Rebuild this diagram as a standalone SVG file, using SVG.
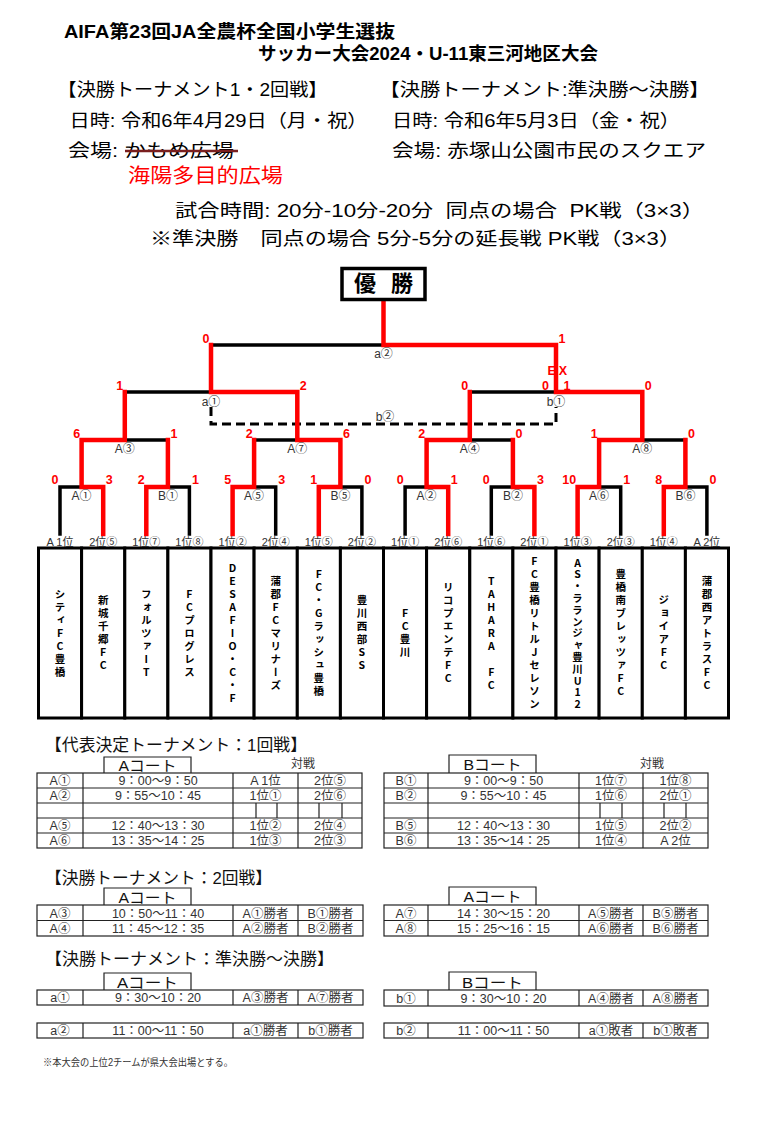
<svg xmlns="http://www.w3.org/2000/svg" width="772" height="1132" viewBox="0 0 772 1132">
<style>
.hb{font-family:"Liberation Sans","Noto Sans CJK JP",sans-serif;font-weight:700;font-size:18px;fill:#000}
.h{font-family:"Liberation Sans","Noto Sans CJK JP",sans-serif;font-size:18px;fill:#000}
.lbl{font-family:"Liberation Sans","Noto Sans CJK JP",sans-serif;font-size:12px;fill:#333;text-anchor:middle}
.slot{font-family:"Liberation Sans","Noto Sans CJK JP",sans-serif;font-size:11px;fill:#333;text-anchor:middle}
.sc{font-family:"Liberation Sans",Arial,sans-serif;font-weight:700;font-size:12.5px;fill:#ff0000}
.e{text-anchor:end}
.team{font-family:"Noto Sans CJK JP",sans-serif;font-weight:700;font-size:10.5px;fill:#000;writing-mode:vertical-rl;text-orientation:upright;letter-spacing:2.5px;text-anchor:middle}
.cell{fill:#fff;stroke:#000;stroke-width:3}
.blk{fill:none;stroke:#000;stroke-width:3.5;stroke-linecap:square;stroke-linejoin:miter}
.rd{fill:none;stroke:#ff0000;stroke-width:4.5;stroke-linecap:square;stroke-linejoin:miter}
.dash{fill:none;stroke:#000;stroke-width:3;stroke-dasharray:9 5}
.tl{fill:none;stroke:#222;stroke-width:1.2}
.tc{font-family:"Liberation Sans","Noto Sans CJK JP",sans-serif;font-size:12.5px;fill:#333;text-anchor:middle}
.th{font-family:"Liberation Sans","Noto Sans CJK JP",sans-serif;font-size:16.5px;fill:#111}
.ct{font-family:"Liberation Sans","Noto Sans CJK JP",sans-serif;font-size:14.5px;fill:#111;text-anchor:middle}
</style>
<rect width="772" height="1132" fill="#fff"/>

<g id="header">
<text class="hb" x="64" y="38" textLength="331" lengthAdjust="spacingAndGlyphs">AIFA第23回JA全農杯全国小学生選抜</text>
<text class="hb" x="258" y="60" textLength="340" lengthAdjust="spacingAndGlyphs">サッカー大会2024・U-11東三河地区大会</text>
<text class="h" x="57.5" y="95.5" textLength="270" lengthAdjust="spacingAndGlyphs">【決勝トーナメント1・2回戦】</text>
<text class="h" x="379.5" y="95.5" textLength="330" lengthAdjust="spacingAndGlyphs">【決勝トーナメント:準決勝～決勝】</text>
<text class="h" x="69.5" y="126.5" textLength="298" lengthAdjust="spacingAndGlyphs">日時: 令和6年4月29日（月・祝）</text>
<text class="h" x="392" y="126.5" textLength="288" lengthAdjust="spacingAndGlyphs">日時: 令和6年5月3日（金・祝）</text>
<text class="h" x="68" y="157" textLength="166" lengthAdjust="spacingAndGlyphs">会場: かもめ広場</text>
<line x1="125" y1="151" x2="238" y2="151" stroke="#7a1f1f" stroke-width="2.5"/>
<text class="h" x="392" y="157" textLength="314" lengthAdjust="spacingAndGlyphs">会場: 赤塚山公園市民のスクエア</text>
<text class="h" x="128" y="183" style="font-size:20px;fill:#ff0000" textLength="155" lengthAdjust="spacingAndGlyphs">海陽多目的広場</text>
<text class="h" x="175" y="216.5" textLength="529" lengthAdjust="spacingAndGlyphs">試合時間: 20分-10分-20分&#160;&#160;同点の場合&#160;&#160;PK戦（3×3）</text>
<text class="h" x="150" y="245" textLength="531" lengthAdjust="spacingAndGlyphs">※準決勝　同点の場合 5分-5分の延長戦 PK戦（3×3）</text>
</g>

<g id="connectors">
<path class="blk" d="M60,534 V487 H81.6"/>
<path class="blk" d="M167.9,487 H189.4 V534"/>
<path class="blk" d="M254.1,487 H275.7 V534"/>
<path class="blk" d="M340.4,487 H361.9 V534"/>
<path class="blk" d="M405.1,534 V487 H426.6"/>
<path class="blk" d="M491.3,534 V487 H512.9"/>
<path class="blk" d="M599.1,487 H620.7 V534"/>
<path class="blk" d="M685.4,487 H706.9 V534"/>
<path class="blk" d="M124.8,440 H167.9"/>
<path class="blk" d="M254.1,440 H297.3"/>
<path class="blk" d="M469.8,440 H512.9"/>
<path class="blk" d="M642.3,440 H685.4"/>
<path class="blk" d="M124.8,392 H211"/>
<path class="blk" d="M469.8,392 H556"/>
<path class="blk" d="M211,345 H383.5"/>
<path class="dash" d="M211,407 V424 H556 V407"/>
<path class="rd" d="M103.2,534 V487 H81.6 V440 H124.8 V392"/>
<path class="rd" d="M146.3,534 V487 H167.9 V440"/>
<path class="rd" d="M232.6,534 V487 H254.1 V440"/>
<path class="rd" d="M318.8,534 V487 H340.4 V440 H297.3 V392 H211 V345"/>
<path class="rd" d="M448.2,534 V487 H426.6 V440 H469.8 V392"/>
<path class="rd" d="M534.4,534 V487 H512.9 V440"/>
<path class="rd" d="M577.6,534 V487 H599.1 V440 H642.3 V392 H556 V345 H383.5 V301"/>
<path class="rd" d="M663.8,534 V487 H685.4 V440"/>
</g>

<g id="champion">
<rect x="342" y="268.5" width="83" height="31" fill="#fff" stroke="#000" stroke-width="3.5"/>
<text x="354" y="291" style="font-family:'Noto Sans CJK JP',sans-serif;font-weight:700;font-size:22px;fill:#000">優<tspan x="391">勝</tspan></text>
</g>

<g id="match-labels">
<text class="lbl" x="383.5" y="358">a②</text>
<text class="lbl" x="211" y="406">a①</text>
<text class="lbl" x="556" y="406">b①</text>
<text class="lbl" x="385" y="421">b②</text>
<text class="lbl" x="124.8" y="453">A③</text>
<text class="lbl" x="297.3" y="453">A⑦</text>
<text class="lbl" x="469.8" y="453">A④</text>
<text class="lbl" x="642.3" y="453">A⑧</text>
<text class="lbl" x="81.6" y="500">A①</text>
<text class="lbl" x="167.9" y="500">B①</text>
<text class="lbl" x="254.1" y="500">A⑤</text>
<text class="lbl" x="340.4" y="500">B⑤</text>
<text class="lbl" x="426.6" y="500">A②</text>
<text class="lbl" x="512.9" y="500">B②</text>
<text class="lbl" x="599.1" y="500">A⑥</text>
<text class="lbl" x="685.4" y="500">B⑥</text>
</g>

<g id="scores">
<text class="sc e" x="58.5" y="484">0</text><text class="sc" x="105.7" y="484">3</text>
<text class="sc e" x="144.8" y="484">2</text><text class="sc" x="191.9" y="484">1</text>
<text class="sc e" x="231.1" y="484">5</text><text class="sc" x="278.2" y="484">3</text>
<text class="sc e" x="317.3" y="484">1</text><text class="sc" x="364.4" y="484">0</text>
<text class="sc e" x="403.6" y="484">0</text><text class="sc" x="450.7" y="484">1</text>
<text class="sc e" x="489.8" y="484">0</text><text class="sc" x="536.9" y="484">3</text>
<text class="sc e" x="576.1" y="484">10</text><text class="sc" x="623.2" y="484">1</text>
<text class="sc e" x="662.3" y="484">8</text><text class="sc" x="709.4" y="484">0</text>
<text class="sc e" x="80.1" y="437.5">6</text><text class="sc" x="170.4" y="437.5">1</text>
<text class="sc e" x="252.6" y="437.5">2</text><text class="sc" x="342.9" y="437.5">6</text>
<text class="sc e" x="425.1" y="437.5">2</text><text class="sc" x="515.4" y="437.5">0</text>
<text class="sc e" x="597.6" y="437.5">1</text><text class="sc" x="687.9" y="437.5">0</text>
<text class="sc e" x="123.3" y="389.5">1</text><text class="sc" x="299.8" y="389.5">2</text>
<text class="sc e" x="468.3" y="389.5">0</text><text class="sc" x="644.8" y="389.5">0</text>
<text class="sc e" x="549" y="390">0</text><text class="sc" x="563.5" y="390">1</text>
<text class="sc" x="547.5" y="375" style="letter-spacing:3px">EX</text>
<text class="sc e" x="209.5" y="342.5">0</text><text class="sc" x="558.5" y="342.5">1</text>
</g>

<g id="slot-labels">
<text class="slot" x="60" y="546">A 1位</text>
<text class="slot" x="103.2" y="546">2位⑤</text>
<text class="slot" x="146.3" y="546">1位⑦</text>
<text class="slot" x="189.4" y="546">1位⑧</text>
<text class="slot" x="232.6" y="546">1位②</text>
<text class="slot" x="275.7" y="546">2位④</text>
<text class="slot" x="318.8" y="546">1位⑤</text>
<text class="slot" x="361.9" y="546">2位②</text>
<text class="slot" x="405.1" y="546">1位①</text>
<text class="slot" x="448.2" y="546">2位⑥</text>
<text class="slot" x="491.3" y="546">1位⑥</text>
<text class="slot" x="534.4" y="546">2位①</text>
<text class="slot" x="577.6" y="546">1位③</text>
<text class="slot" x="620.7" y="546">2位③</text>
<text class="slot" x="663.8" y="546">1位④</text>
<text class="slot" x="706.9" y="546">A 2位</text>
</g>

<g id="teams">
<g id="team-01"><rect class="cell" x="38.5" y="548" width="43.1" height="170"/><text class="team" x="60" y="634">シティFC豊橋</text></g>
<g id="team-02"><rect class="cell" x="81.6" y="548" width="43.2" height="170"/><text class="team" x="103.2" y="634">新城千郷FC</text></g>
<g id="team-03"><rect class="cell" x="124.8" y="548" width="43.1" height="170"/><text class="team" x="146.3" y="634">フォルツァIT</text></g>
<g id="team-04"><rect class="cell" x="167.9" y="548" width="43.1" height="170"/><text class="team" x="189.4" y="634">FCプログレス</text></g>
<g id="team-05"><rect class="cell" x="211" y="548" width="43.1" height="170"/><text class="team" x="232.6" y="634">DESAFIO・C・F</text></g>
<g id="team-06"><rect class="cell" x="254.1" y="548" width="43.2" height="170"/><text class="team" x="275.7" y="634">蒲郡FCマリナーズ</text></g>
<g id="team-07"><rect class="cell" x="297.3" y="548" width="43.1" height="170"/><text class="team" x="318.8" y="634">FC・Gラッシュ豊橋</text></g>
<g id="team-08"><rect class="cell" x="340.4" y="548" width="43.1" height="170"/><text class="team" x="361.9" y="634">豊川西部SS</text></g>
<g id="team-09"><rect class="cell" x="383.5" y="548" width="43.1" height="170"/><text class="team" x="405.1" y="634">FC豊川</text></g>
<g id="team-10"><rect class="cell" x="426.6" y="548" width="43.2" height="170"/><text class="team" x="448.2" y="634">リコプエンテFC</text></g>
<g id="team-11"><rect class="cell" x="469.8" y="548" width="43.1" height="170"/><text class="team" x="491.3" y="634">TAHARA FC</text></g>
<g id="team-12"><rect class="cell" x="512.9" y="548" width="43.1" height="170"/><text class="team" x="534.4" y="634">FC豊橋リトルJセレソン</text></g>
<g id="team-13"><rect class="cell" x="556" y="548" width="43.1" height="170"/><text class="team" x="577.6" y="634" style="letter-spacing:1.3px">AS・ラランジャ豊川U12</text></g>
<g id="team-14"><rect class="cell" x="599.1" y="548" width="43.2" height="170"/><text class="team" x="620.7" y="634">豊橋南ブレッツァFC</text></g>
<g id="team-15"><rect class="cell" x="642.3" y="548" width="43.1" height="170"/><text class="team" x="663.8" y="634">ジョイアFC</text></g>
<g id="team-16"><rect class="cell" x="685.4" y="548" width="43.1" height="170"/><text class="team" x="706.9" y="634">蒲郡西アトラスFC</text></g>
</g>

<g id="table-round1">
<text class="th" x="45" y="751" textLength="262" lengthAdjust="spacingAndGlyphs">【代表決定トーナメント：1回戦】</text>
<path class="tl" d="M104,773 V757 H191 V773"/>
<text class="ct" x="147.5" y="770.5" textLength="58" lengthAdjust="spacingAndGlyphs">Aコート</text>
<text class="tc" x="303" y="768" style="font-size:12px">対戦</text>
<rect class="tl" x="37" y="773" width="325" height="75"/>
<path class="tl" d="M37,788 H362 M37,803 H362 M37,818 H362 M37,833 H362 M83,773 V848 M233,773 V848 M298,773 V848 M256,803 V818 M277,803 V818 M319,803 V818 M342,803 V818"/>
<text class="tc" x="60" y="785">A①</text><text class="tc" x="158" y="785">9：00～9：50</text><text class="tc" x="265.5" y="785">A 1位</text><text class="tc" x="330" y="785">2位⑤</text>
<text class="tc" x="60" y="800">A②</text><text class="tc" x="158" y="800">9：55～10：45</text><text class="tc" x="265.5" y="800">1位①</text><text class="tc" x="330" y="800">2位⑥</text>
<text class="tc" x="60" y="830">A⑤</text><text class="tc" x="158" y="830">12：40～13：30</text><text class="tc" x="265.5" y="830">1位②</text><text class="tc" x="330" y="830">2位④</text>
<text class="tc" x="60" y="845">A⑥</text><text class="tc" x="158" y="845">13：35～14：25</text><text class="tc" x="265.5" y="845">1位③</text><text class="tc" x="330" y="845">2位③</text>

<path class="tl" d="M449,773 V755 H536 V773"/>
<text class="ct" x="492.5" y="770" textLength="58" lengthAdjust="spacingAndGlyphs">Bコート</text>
<text class="tc" x="652" y="768" style="font-size:12px">対戦</text>
<rect class="tl" x="384" y="773" width="324" height="75"/>
<path class="tl" d="M384,788 H708 M384,803 H708 M384,818 H708 M384,833 H708 M428,773 V848 M579,773 V848 M643,773 V848 M600,803 V818 M622,803 V818 M664,803 V818 M686,803 V818"/>
<text class="tc" x="406" y="785">B①</text><text class="tc" x="503.5" y="785">9：00～9：50</text><text class="tc" x="611" y="785">1位⑦</text><text class="tc" x="675.5" y="785">1位⑧</text>
<text class="tc" x="406" y="800">B②</text><text class="tc" x="503.5" y="800">9：55～10：45</text><text class="tc" x="611" y="800">1位⑥</text><text class="tc" x="675.5" y="800">2位①</text>
<text class="tc" x="406" y="830">B⑤</text><text class="tc" x="503.5" y="830">12：40～13：30</text><text class="tc" x="611" y="830">1位⑤</text><text class="tc" x="675.5" y="830">2位②</text>
<text class="tc" x="406" y="845">B⑥</text><text class="tc" x="503.5" y="845">13：35～14：25</text><text class="tc" x="611" y="845">1位④</text><text class="tc" x="675.5" y="845">A 2位</text>
</g>

<g id="table-round2">
<text class="th" x="45" y="884" textLength="227" lengthAdjust="spacingAndGlyphs">【決勝トーナメント：2回戦】</text>
<path class="tl" d="M104,905 V888 H191 V905"/>
<text class="ct" x="147.5" y="902.5" textLength="58" lengthAdjust="spacingAndGlyphs">Aコート</text>
<rect class="tl" x="37" y="905" width="326" height="31"/>
<path class="tl" d="M37,920.5 H363 M83,905 V936 M233,905 V936 M298,905 V936"/>
<text class="tc" x="60" y="917.5">A③</text><text class="tc" x="158" y="917.5">10：50～11：40</text><text class="tc" x="265.5" y="917.5">A①勝者</text><text class="tc" x="330.5" y="917.5">B①勝者</text>
<text class="tc" x="60" y="932.5">A④</text><text class="tc" x="158" y="932.5">11：45～12：35</text><text class="tc" x="265.5" y="932.5">A②勝者</text><text class="tc" x="330.5" y="932.5">B②勝者</text>

<path class="tl" d="M449,905 V887 H536 V905"/>
<text class="ct" x="492.5" y="902" textLength="58" lengthAdjust="spacingAndGlyphs">Aコート</text>
<rect class="tl" x="384" y="905" width="324" height="31"/>
<path class="tl" d="M384,920.5 H708 M428,905 V936 M579,905 V936 M643,905 V936"/>
<text class="tc" x="406" y="917.5">A⑦</text><text class="tc" x="503.5" y="917.5">14：30～15：20</text><text class="tc" x="611" y="917.5">A⑤勝者</text><text class="tc" x="675.5" y="917.5">B⑤勝者</text>
<text class="tc" x="406" y="932.5">A⑧</text><text class="tc" x="503.5" y="932.5">15：25～16：15</text><text class="tc" x="611" y="932.5">A⑥勝者</text><text class="tc" x="675.5" y="932.5">B⑥勝者</text>
</g>

<g id="table-final">
<text class="th" x="45" y="965" textLength="289" lengthAdjust="spacingAndGlyphs">【決勝トーナメント：準決勝～決勝】</text>
<path class="tl" d="M104,990 V973 H191 V990"/>
<text class="ct" x="147.5" y="987.5" textLength="61" lengthAdjust="spacingAndGlyphs">Aコート</text>
<rect class="tl" x="37" y="990" width="326" height="15"/>
<path class="tl" d="M83,990 V1005 M233,990 V1005 M298,990 V1005"/>
<text class="tc" x="60" y="1002">a①</text><text class="tc" x="158" y="1002">9：30～10：20</text><text class="tc" x="265.5" y="1002">A③勝者</text><text class="tc" x="330.5" y="1002">A⑦勝者</text>
<rect class="tl" x="37" y="1023" width="326" height="15"/>
<path class="tl" d="M83,1023 V1038 M233,1023 V1038 M298,1023 V1038"/>
<text class="tc" x="60" y="1035">a②</text><text class="tc" x="158" y="1035">11：00～11：50</text><text class="tc" x="265.5" y="1035">a①勝者</text><text class="tc" x="330.5" y="1035">b①勝者</text>

<path class="tl" d="M449,990 V972 H536 V990"/>
<text class="ct" x="492.5" y="987.5" textLength="61" lengthAdjust="spacingAndGlyphs">Bコート</text>
<rect class="tl" x="384" y="990" width="324" height="16"/>
<path class="tl" d="M428,990 V1006 M579,990 V1006 M643,990 V1006"/>
<text class="tc" x="406" y="1002.5">b①</text><text class="tc" x="503.5" y="1002.5">9：30～10：20</text><text class="tc" x="611" y="1002.5">A④勝者</text><text class="tc" x="675.5" y="1002.5">A⑧勝者</text>
<rect class="tl" x="384" y="1023" width="324" height="15"/>
<path class="tl" d="M428,1023 V1038 M579,1023 V1038 M643,1023 V1038"/>
<text class="tc" x="406" y="1035">b②</text><text class="tc" x="503.5" y="1035">11：00～11：50</text><text class="tc" x="611" y="1035">a①敗者</text><text class="tc" x="675.5" y="1035">b①敗者</text>
</g>

<text id="footnote" x="43" y="1066" textLength="190" lengthAdjust="spacingAndGlyphs" style="font-family:'Liberation Sans','Noto Sans CJK JP',sans-serif;font-size:10px;fill:#333">※本大会の上位2チームが県大会出場とする。</text>
</svg>
